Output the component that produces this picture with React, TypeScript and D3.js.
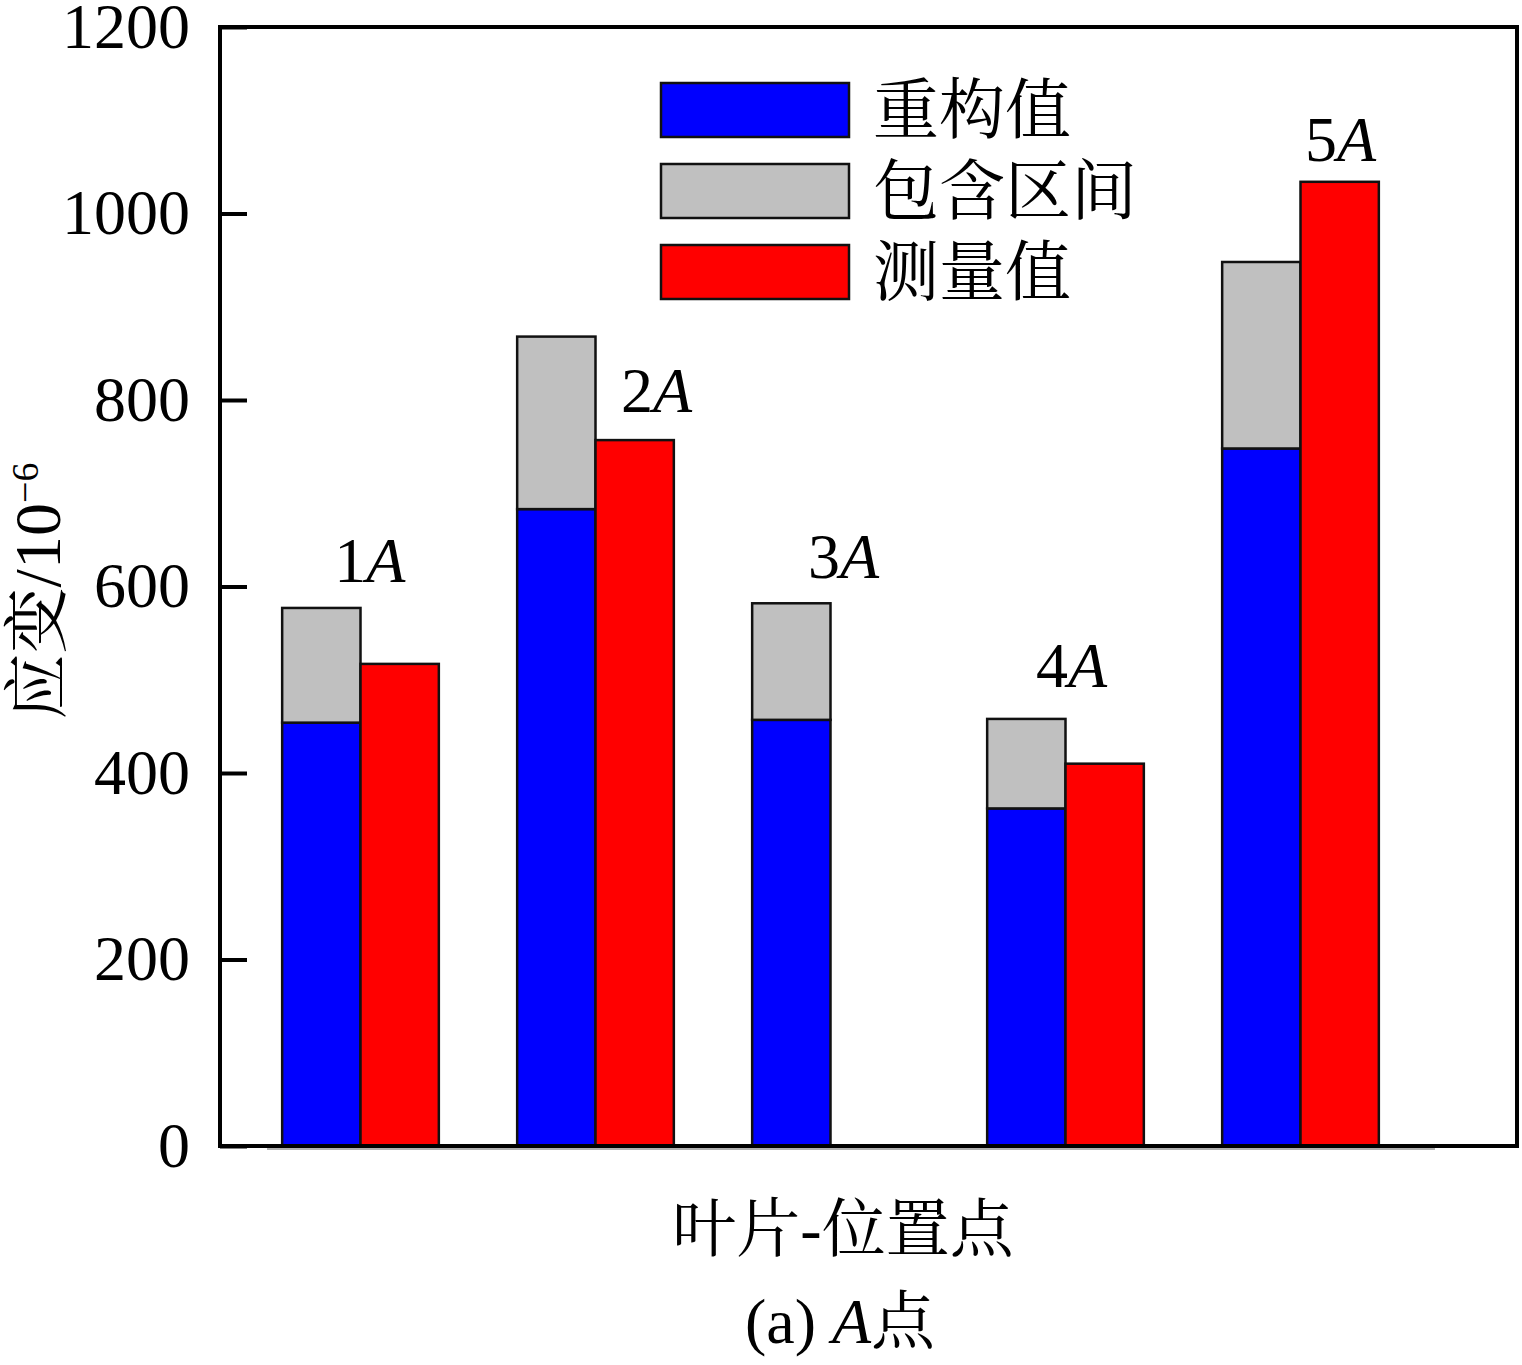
import React, { useEffect, useRef } from "react";
import * as d3 from "d3";

// blade - position point
const categories = ["1", "2", "3", "4", "5"];
// reconstructed strain (blue)
const reconstructed = [454, 683, 457, 362, 748];
// upper bound of the inclusion interval (grey, stacked on blue)
const intervalUpper = [577, 868, 582, 458, 948];
// measured strain (red), 3A has no measurement
const measured: (number | null)[] = [517, 757, null, 410, 1034];
// annotation anchor heights (data units) for the "nA" labels
const labelValue = [605, 787, 609, 492, 1056];
const yTicks = [0, 200, 400, 600, 800, 1000, 1200];
const legendItems = ["重构值", "包含区间", "测量值"];

const FONT = '"Liberation Serif", "Times New Roman", "Noto Serif CJK SC", "Noto Sans CJK SC", serif';

export default function App() {
    const ref = useRef<SVGSVGElement>(null);

    useEffect(() => {
        const svg = d3.select(ref.current);
        svg.selectAll("*").remove();

        const margin = { top: 27, right: 5, bottom: 219, left: 220 },
            width = 1522 - margin.left - margin.right,
            height = 1365 - margin.top - margin.bottom;

        const g = svg.append("g")
            .attr("transform", "translate(" + margin.left + "," + margin.top + ")");

        const y = d3.scaleLinear().domain([0, 1200]).range([height, 0]);

        const x = d3.scaleBand()
            .domain(categories)
            .range([23, 1198])
            .padding(0);

        const bw = x.bandwidth();
        const sub = d3.scaleBand()
            .domain(["rec", "meas"])
            .range([bw / 6, bw * 5 / 6]);

        const colors = { rec: "#0000ff", band: "#c0c0c0", meas: "#ff0000" };

        // faint shadow line under the category axis
        g.append("line")
            .attr("x1", 47).attr("x2", 1215)
            .attr("y1", height + 3).attr("y2", height + 3)
            .attr("stroke", "#b0b0b0").attr("stroke-width", 2);

        const groups = g.selectAll("g.grp")
            .data(categories)
            .enter()
            .append("g")
            .attr("class", "grp")
            .attr("transform", (d) => "translate(" + x(d) + ",0)");

        // reconstructed
        groups.append("rect")
            .attr("x", sub("rec"))
            .attr("width", sub.bandwidth())
            .attr("y", (d, i) => y(reconstructed[i]))
            .attr("height", (d, i) => height - y(reconstructed[i]))
            .attr("fill", colors.rec)
            .attr("stroke", "#111").attr("stroke-width", 2.5);

        // interval on top
        groups.append("rect")
            .attr("x", sub("rec"))
            .attr("width", sub.bandwidth())
            .attr("y", (d, i) => y(intervalUpper[i]))
            .attr("height", (d, i) => y(reconstructed[i]) - y(intervalUpper[i]))
            .attr("fill", colors.band)
            .attr("stroke", "#111").attr("stroke-width", 2.5);

        // measured
        groups.filter((d, i) => measured[i] != null)
            .append("rect")
            .attr("x", sub("meas"))
            .attr("width", sub.bandwidth())
            .attr("y", (d) => y(measured[categories.indexOf(d)] as number))
            .attr("height", (d) => height - y(measured[categories.indexOf(d)] as number))
            .attr("fill", colors.meas)
            .attr("stroke", "#111").attr("stroke-width", 2.5);

        // point labels
        const labelShift = [0.04, 0.26, 0.055, 0.026, 0.17];
        categories.forEach((c, i) => {
            const t = g.append("text")
                .attr("x", (x(c) as number) + bw / 2 + labelShift[i] * bw)
                .attr("y", y(labelValue[i]))
                .attr("text-anchor", "middle")
                .style("font-family", FONT)
                .style("font-size", "64px");
            t.append("tspan").text(c);
            t.append("tspan").style("font-style", "italic").text("A");
        });

        // y axis
        const yAxis = g.append("g")
            .call(d3.axisLeft(y).tickValues(yTicks).tickFormat(d3.format("d"))
                .tickSizeInner(-27).tickSizeOuter(0).tickPadding(30));
        yAxis.select(".domain").remove();
        yAxis.selectAll("line").attr("stroke", "#000").attr("stroke-width", 4);
        yAxis.selectAll("text")
            .style("font-family", FONT)
            .style("font-size", "64px")
            .attr("fill", "#000");

        // frame
        g.append("rect")
            .attr("x", 0).attr("y", 0)
            .attr("width", 1297).attr("height", height)
            .attr("fill", "none")
            .attr("stroke", "#000").attr("stroke-width", 4);

        // legend
        const legendColors = [colors.rec, colors.band, colors.meas];
        const lg = svg.append("g").attr("transform", "translate(661,83)");
        legendItems.forEach((name, i) => {
            lg.append("rect")
                .attr("x", 0).attr("y", i * 81)
                .attr("width", 188).attr("height", 54)
                .attr("fill", legendColors[i])
                .attr("stroke", "#111").attr("stroke-width", 2.5);
            lg.append("text")
                .attr("x", 212).attr("y", i * 81 + 50)
                .style("font-family", FONT)
                .style("font-size", "66px")
                .text(name);
        });

        // y axis title
        const yt = svg.append("text")
            .attr("transform", "translate(60,591) rotate(-90)")
            .attr("text-anchor", "middle")
            .style("font-family", FONT)
            .style("font-size", "66px");
        yt.append("tspan").text("应变/10");
        yt.append("tspan").attr("dy", -22).style("font-size", "38px").text("−6");

        // x axis title
        svg.append("text")
            .attr("x", 843).attr("y", 1251)
            .attr("text-anchor", "middle")
            .style("font-family", FONT)
            .style("font-size", "64px")
            .text("叶片-位置点");

        const cap = svg.append("text")
            .attr("x", 840).attr("y", 1343)
            .attr("text-anchor", "middle")
            .style("font-family", FONT)
            .style("font-size", "64px");
        cap.append("tspan").text("(a) ");
        cap.append("tspan").style("font-style", "italic").text("A");
        cap.append("tspan").text("点");
    }, []);

    return (
        <svg
            ref={ref}
            width={1522}
            height={1365}
            style={{ position: "absolute", left: 0, top: 0, background: "#fff" }}
        />
    );
}
